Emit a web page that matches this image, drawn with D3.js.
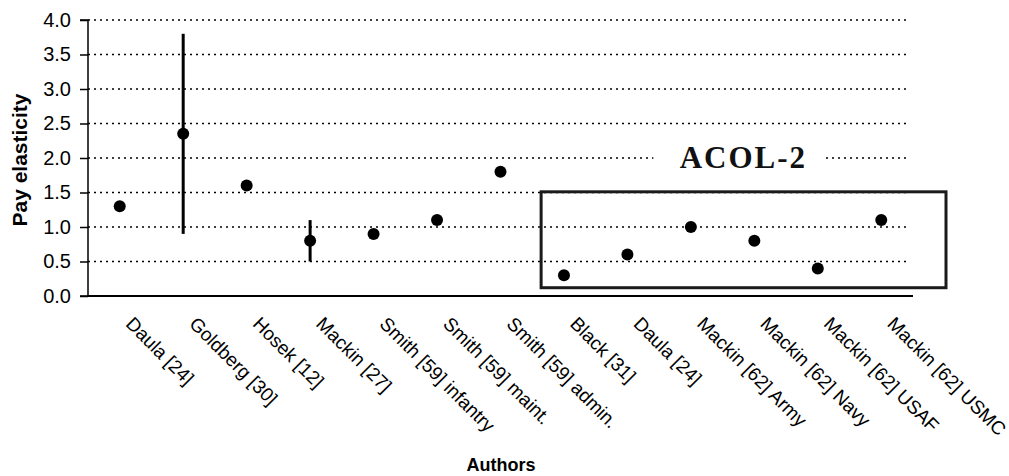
<!DOCTYPE html>
<html>
<head>
<meta charset="utf-8">
<script src="https://cdn.jsdelivr.net/npm/d3@7"></script>
<style>
  html, body { margin: 0; padding: 0; background: #fff; }
  svg { display: block; }
</style>
</head>
<body>
<svg id="chart" width="1009" height="476"></svg>
<script>
// ---- data ----
const categories = ["Daula [24]", "Goldberg [30]", "Hosek [12]", "Mackin [27]",
  "Smith [59] infantry", "Smith [59] maint.", "Smith [59] admin.", "Black [31]",
  "Daula [24]", "Mackin [62] Army", "Mackin [62] Navy", "Mackin [62] USAF", "Mackin [62] USMC"];
const elasticity = [1.3, 2.35, 1.6, 0.8, 0.9, 1.1, 1.8, 0.3, 0.6, 1.0, 0.8, 0.4, 1.1];
const errLow  = [null, 0.9, null, 0.5, null, null, null, null, null, null, null, null, null];
const errHigh = [null, 3.8, null, 1.1, null, null, null, null, null, null, null, null, null];
const yTicks = [0, 0.5, 1.0, 1.5, 2.0, 2.5, 3.0, 3.5, 4.0];
const acolGroup = [7, 12];           // first/last index of ACOL-2 group
const acolRange = [0.12, 1.51];      // box vertical extent in data units
const acolLabel = "ACOL-2";
const acolLabelY = 2.0;
const yTitle = "Pay elasticity";
const xTitle = "Authors";

(function () {
// ---- layout ----
const svg = d3.select("#chart");
const mLeft = 88, mRight = 913, mTop = 20, mBottom = 296;
const idx = categories.map((_, i) => i);
const x = d3.scaleBand().domain(idx).range([mLeft, mRight]).padding(0);
const y = d3.scaleLinear().domain([0, 4]).range([mBottom, mTop]);
const cx = i => x(i) + x.bandwidth() / 2;

// gridlines
svg.append("g").selectAll("line")
  .data(yTicks.filter(d => d > 0))
  .join("line")
  .attr("x1", mLeft).attr("x2", 908)
  .attr("y1", d => y(d)).attr("y2", d => y(d))
  .attr("stroke", "#000").attr("stroke-width", 1.6)
  .attr("stroke-dasharray", "2,4");

// y axis
const yAxis = d3.axisLeft(y).tickValues(yTicks).tickFormat(d3.format(".1f"))
  .tickSize(8).tickPadding(9);
const gy = svg.append("g").attr("transform", `translate(${mLeft},0)`).call(yAxis);
gy.select(".domain").attr("stroke", "#000").attr("stroke-width", 1.5)
  .attr("d", `M-8,${mTop}H0V${mBottom}H-8`);
gy.selectAll(".tick line").attr("stroke", "#000").attr("stroke-width", 1.5);
gy.selectAll(".tick text").attr("font-family", "Liberation Sans, Arial, sans-serif")
  .attr("font-size", 20).attr("fill", "#000");

// x axis
const xAxis = d3.axisBottom(x).tickSize(0).tickFormat(i => categories[i]);
const gx = svg.append("g").attr("transform", `translate(0,${mBottom})`).call(xAxis);
gx.select(".domain").attr("stroke", "#000").attr("stroke-width", 2)
  .attr("d", `M${mLeft},0H${mRight}`);
gx.selectAll(".tick text")
  .attr("font-family", "Liberation Sans, Arial, sans-serif")
  .attr("font-size", 19).attr("fill", "#000")
  .attr("text-anchor", "start")
  .attr("dy", null)
  .attr("y", 0)
  .attr("transform", "translate(5,29) rotate(45)");

// ACOL-2 box
const step = x.step();
const bx0 = x(acolGroup[0]) + 0.14 * step;
const bx1 = x(acolGroup[1]) + 1.52 * step;
svg.append("rect")
  .attr("x", bx0)
  .attr("y", y(acolRange[1]))
  .attr("width", bx1 - bx0)
  .attr("height", y(acolRange[0]) - y(acolRange[1]))
  .attr("fill", "none").attr("stroke", "#1a1a1a").attr("stroke-width", 3);

// ACOL-2 label
const labX = (cx(9) + cx(11)) / 2 - 11;
svg.append("rect")
  .attr("x", labX - 90).attr("y", y(acolLabelY) - 20)
  .attr("width", 170).attr("height", 34).attr("fill", "#fff");
svg.append("text")
  .attr("x", labX).attr("y", y(acolLabelY) + 10)
  .attr("text-anchor", "middle")
  .attr("font-family", "Liberation Serif, Times New Roman, serif")
  .attr("font-weight", "bold").attr("font-size", 31)
  .attr("letter-spacing", 2)
  .attr("fill", "#111")
  .text(acolLabel);

// error bars
svg.append("g").selectAll("line")
  .data(idx.filter(i => errLow[i] != null))
  .join("line")
  .attr("x1", cx).attr("x2", cx)
  .attr("y1", i => y(errLow[i])).attr("y2", i => y(errHigh[i]))
  .attr("stroke", "#000").attr("stroke-width", 3);

// points
svg.append("g").selectAll("circle")
  .data(idx)
  .join("circle")
  .attr("cx", cx).attr("cy", i => y(elasticity[i]))
  .attr("r", 6).attr("fill", "#000");

// axis titles
svg.append("text")
  .attr("transform", `translate(27,${(mTop + mBottom) / 2 + 2}) rotate(-90)`)
  .attr("text-anchor", "middle")
  .attr("font-family", "Liberation Sans, Arial, sans-serif")
  .attr("font-weight", "bold").attr("font-size", 21)
  .text(yTitle);
svg.append("text")
  .attr("x", 501).attr("y", 471)
  .attr("text-anchor", "middle")
  .attr("font-family", "Liberation Sans, Arial, sans-serif")
  .attr("font-weight", "bold").attr("font-size", 18)
  .text(xTitle);
})();
</script>
</body>
</html>
